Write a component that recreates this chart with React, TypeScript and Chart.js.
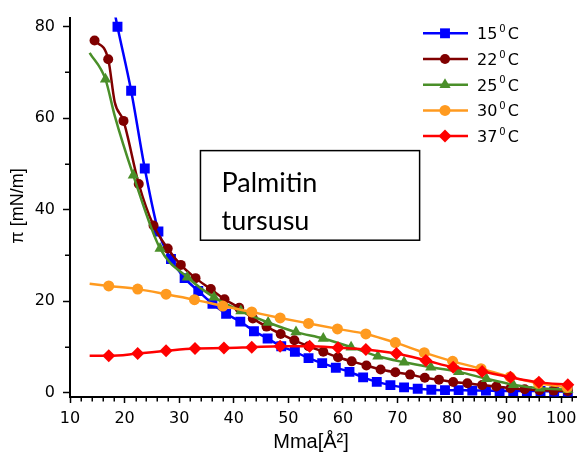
import React, { useEffect, useRef } from 'react';
import { Chart, registerables } from 'chart.js';

Chart.register(...registerables);

// ---- data ----
const LEGEND_TEMPS = ['15', '22', '25', '30', '37'];

const BLUE_X = [18.7, 21.2, 23.7, 26.2, 28.5, 31.0, 33.5, 36.1, 38.6, 41.2, 43.7, 46.2, 48.7, 51.2, 53.7, 56.2, 58.7, 61.2, 63.7, 66.2, 68.7, 71.2, 73.7, 76.2, 78.7, 81.2, 83.7, 86.2, 88.7, 91.2, 93.7, 96.2, 98.7, 101.2];
const BLUE_Y = [80, 66, 49, 35.2, 29.2, 25.0, 22.2, 19.4, 17.2, 15.5, 13.4, 11.8, 10.1, 8.9, 7.5, 6.4, 5.4, 4.5, 3.3, 2.3, 1.6, 1.1, 0.8, 0.6, 0.5, 0.5, 0.4, 0.4, 0.3, 0.3, 0.3, 0.3, 0.2, 0.2];
const BLUE_KNOT_X = [18.2];
const BLUE_KNOT_Y = [83];

const MAROON_X = [14.5, 17.0, 19.8, 22.6, 25.3, 27.9, 30.3, 33.0, 35.8, 38.3, 41.0, 43.5, 46.0, 48.6, 51.1, 53.7, 56.4, 59.1, 61.6, 64.3, 66.9, 69.6, 72.3, 75.0, 77.6, 80.2, 82.8, 85.5, 88.1, 90.7, 93.3, 96.0, 98.6, 101.2];
const MAROON_Y = [77.0, 72.9, 59.4, 45.6, 36.5, 31.5, 27.9, 25.0, 22.6, 20.4, 18.5, 16.2, 14.4, 12.8, 11.4, 10.1, 8.9, 7.7, 6.8, 5.9, 5.0, 4.4, 3.9, 3.2, 2.8, 2.3, 2.0, 1.6, 1.3, 0.9, 0.7, 0.5, 0.4, 0.3];
const MAROON_KNOT_X = [18.2];
const MAROON_KNOT_Y = [63.5];

const GREEN_X = [16.5, 21.6, 26.5, 31.5, 36.4, 41.3, 46.3, 51.4, 56.4, 61.5, 66.4, 71.2, 76.1, 81.2, 86.3, 91.2, 96.1, 101.2];
const GREEN_Y = [68.5, 47.5, 31.5, 25.2, 20.8, 17.8, 15.3, 13.2, 11.8, 9.9, 7.9, 6.6, 5.5, 4.5, 3.0, 1.7, 0.9, 0.6];
const GREEN_KNOT_X = [13.6, 18.2];
const GREEN_KNOT_Y = [74.3, 60.5];

const ORANGE_X = [17.1, 22.4, 27.6, 32.8, 38.0, 43.3, 48.5, 53.7, 59.0, 64.2, 69.6, 74.9, 80.1, 85.3, 90.6, 95.8, 101.1];
const ORANGE_Y = [23.3, 22.6, 21.5, 20.3, 18.9, 17.6, 16.3, 15.1, 13.9, 12.8, 10.9, 8.7, 6.8, 5.2, 3.4, 2.0, 1.1];
const ORANGE_KNOT_X = [13.6];
const ORANGE_KNOT_Y = [23.8];

const RED_X = [17.1, 22.4, 27.6, 32.9, 38.2, 43.3, 48.5, 53.9, 59.1, 64.2, 69.8, 75.2, 80.2, 85.5, 90.7, 95.9, 101.2];
const RED_Y = [8.0, 8.5, 9.1, 9.6, 9.7, 9.9, 10.1, 10.1, 9.8, 9.4, 8.5, 7.0, 5.5, 4.6, 3.3, 2.2, 1.7];
const RED_KNOT_X = [13.6];
const RED_KNOT_Y = [8.0];

const X_TICKS = [10, 20, 30, 40, 50, 60, 70, 80, 90, 100];
const Y_TICKS = [0, 20, 40, 60, 80];
const BOX_LINES = ['Palmitin', 'tursusu'];
const X_TITLE = 'Mma[Å²]';
const Y_TITLE = 'π [mN/m]';

// ---- styling ----
const STYLES = [
  { color: '#0000FF', style: 'rect', r: 7 },
  { color: '#800000', style: 'circle', r: 5 },
  { color: '#4A8F29', style: 'triangle', r: 6.5 },
  { color: '#FF9A1F', style: 'circle', r: 5.5 },
  { color: '#FF0000', style: 'rectRot', r: 6.5 },
];

type Pt = { x: number; y: number; m: boolean };

function build(xs: number[], ys: number[], kx: number[], ky: number[]): Pt[] {
  const pts: Pt[] = xs.map((x, i) => ({ x, y: ys[i], m: true }));
  kx.forEach((x, i) => pts.push({ x, y: ky[i], m: false }));
  pts.sort((a, b) => a.x - b.x);
  return pts;
}

function drawMarker(ctx: CanvasRenderingContext2D, style: string, x: number, y: number, r: number) {
  ctx.beginPath();
  if (style === 'circle') {
    ctx.arc(x, y, r, 0, Math.PI * 2);
  } else if (style === 'rect') {
    const s = Math.SQRT1_2 * r;
    ctx.rect(x - s, y - s, 2 * s, 2 * s);
  } else if (style === 'triangle') {
    ctx.moveTo(x, y - r);
    ctx.lineTo(x + r * Math.sin(Math.PI * 2 / 3), y - r * Math.cos(Math.PI * 2 / 3));
    ctx.lineTo(x + r * Math.sin(Math.PI * 4 / 3), y - r * Math.cos(Math.PI * 4 / 3));
    ctx.closePath();
  } else if (style === 'rectRot') {
    ctx.moveTo(x - r, y);
    ctx.lineTo(x, y - r);
    ctx.lineTo(x + r, y);
    ctx.lineTo(x, y + r);
    ctx.closePath();
  }
  ctx.fill();
}

const decor = {
  id: 'decor',
  afterDraw(chart: any) {
    const { ctx, chartArea } = chart;
    const xs = chart.scales.x;
    const ys = chart.scales.y;
    ctx.save();
    // minor ticks
    ctx.strokeStyle = '#000';
    ctx.lineWidth = 1.5;
    for (let v = 12; v < xs.max; v += 2) {
      if (v % 10 === 0) continue;
      const px = Math.round(xs.getPixelForValue(v)) + 0.25;
      ctx.beginPath();
      ctx.moveTo(px, chartArea.bottom);
      ctx.lineTo(px, chartArea.bottom + 4.5);
      ctx.stroke();
    }
    for (let v = 10; v < ys.max; v += 20) {
      const py = Math.round(ys.getPixelForValue(v)) + 0.25;
      ctx.beginPath();
      ctx.moveTo(chartArea.left, py);
      ctx.lineTo(chartArea.left - 5, py);
      ctx.stroke();
    }

    // axis titles
    ctx.fillStyle = '#000';
    ctx.font = '20px "Liberation Sans", Arial, sans-serif';
    ctx.textAlign = 'center';
    ctx.textBaseline = 'alphabetic';
    ctx.fillText(X_TITLE, 311, 448);
    ctx.save();
    ctx.translate(23, 206);
    ctx.rotate(-Math.PI / 2);
    ctx.font = '18px "Liberation Sans", Arial, sans-serif';
    ctx.fillText(Y_TITLE, 0, 0);
    ctx.restore();

    // text box (data coordinates)
    const bx1 = xs.getPixelForValue(33.9);
    const bx2 = xs.getPixelForValue(74.05);
    const by1 = ys.getPixelForValue(52.9);
    const by2 = ys.getPixelForValue(33.3);
    ctx.fillStyle = '#fff';
    ctx.fillRect(bx1, by1, bx2 - bx1, by2 - by1);
    ctx.strokeStyle = '#000';
    ctx.lineWidth = 1.5;
    ctx.strokeRect(bx1, by1, bx2 - bx1, by2 - by1);
    ctx.fillStyle = '#000';
    ctx.font = '27px Lato, "Open Sans", sans-serif';
    ctx.textAlign = 'left';
    BOX_LINES.forEach((t, i) => ctx.fillText(t, bx1 + 21, by1 + 41 + i * 38));

    // legend
    const rowY0 = 33.3;
    const rowH = 25.7;
    LEGEND_TEMPS.forEach((t, i) => {
      const st = STYLES[i];
      const cy = rowY0 + i * rowH;
      ctx.strokeStyle = st.color;
      ctx.fillStyle = st.color;
      ctx.lineWidth = 2.5;
      ctx.beginPath();
      ctx.moveTo(423, cy);
      ctx.lineTo(468, cy);
      ctx.stroke();
      drawMarker(ctx, st.style, 445, cy, st.r);
      ctx.fillStyle = '#000';
      ctx.textAlign = 'left';
      ctx.font = '16px "DejaVu Sans", sans-serif';
      ctx.fillText(t, 477, cy + 6);
      let xp = 477 + ctx.measureText(t).width + 2;
      ctx.font = '10px "DejaVu Sans", sans-serif';
      ctx.fillText('0', xp, cy - 1.5);
      xp += ctx.measureText('0').width + 2;
      ctx.font = '16px "DejaVu Sans", sans-serif';
      ctx.fillText('C', xp, cy + 6);
    });
    ctx.restore();
  },
};

export default function App() {
  const ref = useRef<HTMLCanvasElement | null>(null);

  useEffect(() => {
    if (!ref.current) return;
    const series = [
      build(BLUE_X, BLUE_Y, BLUE_KNOT_X, BLUE_KNOT_Y),
      build(MAROON_X, MAROON_Y, MAROON_KNOT_X, MAROON_KNOT_Y),
      build(GREEN_X, GREEN_Y, GREEN_KNOT_X, GREEN_KNOT_Y),
      build(ORANGE_X, ORANGE_Y, ORANGE_KNOT_X, ORANGE_KNOT_Y),
      build(RED_X, RED_Y, RED_KNOT_X, RED_KNOT_Y),
    ];
    const datasets = series.map((data, i) => {
      const st = STYLES[i];
      return {
        label: LEGEND_TEMPS[i] + ' °C',
        data,
        borderColor: st.color,
        backgroundColor: st.color,
        borderWidth: 2.5,
        pointStyle: st.style,
        pointRadius: (c: any) => (c.raw && c.raw.m ? st.r : 0),
        pointHoverRadius: (c: any) => (c.raw && c.raw.m ? st.r : 0),
        pointBorderWidth: 0,
        pointBackgroundColor: st.color,
        cubicInterpolationMode: 'monotone' as const,
        order: 4 - i,
        clip: 0,
      };
    });

    const tickFont = { family: '"DejaVu Sans", sans-serif', size: 16 };
    const chart = new Chart(ref.current, {
      type: 'line',
      data: { datasets: datasets as any },
      options: {
        animation: false,
        responsive: true,
        maintainAspectRatio: false,
        layout: { padding: { top: 6, right: 3, left: 0, bottom: 0 } },
        plugins: { legend: { display: false }, tooltip: { enabled: false } },
        events: [],
        scales: {
          x: {
            type: 'linear',
            min: 10,
            max: 102.7,
            afterFit: (s: any) => { s.height = 60; },
            afterBuildTicks: (s: any) => { s.ticks = X_TICKS.map((v) => ({ value: v })); },
            ticks: { stepSize: 10, includeBounds: false, font: tickFont, color: '#000', padding: 6, maxRotation: 0, autoSkip: false },
            grid: { display: true, drawOnChartArea: false, drawTicks: true, tickLength: 6, tickColor: '#000', tickWidth: 1.5, color: '#000' },
            border: { display: true, color: '#000', width: 2 },
          },
          y: {
            type: 'linear',
            min: -1,
            max: 82,
            afterFit: (s: any) => { s.width = 70; },
            afterBuildTicks: (s: any) => { s.ticks = Y_TICKS.map((v) => ({ value: v })); },
            ticks: { stepSize: 20, includeBounds: false, font: tickFont, color: '#000', padding: 8, autoSkip: false },
            grid: { display: true, drawOnChartArea: false, drawTicks: true, tickLength: 7, tickColor: '#000', tickWidth: 1.5, color: '#000' },
            border: { display: true, color: '#000', width: 2 },
          },
        },
      },
      plugins: [decor],
    });
    return () => chart.destroy();
  }, []);

  return (
    <div style={{ position: 'fixed', left: 0, top: 0, width: 583, height: 457, background: '#fff' }}>
      <canvas ref={ref} />
    </div>
  );
}
